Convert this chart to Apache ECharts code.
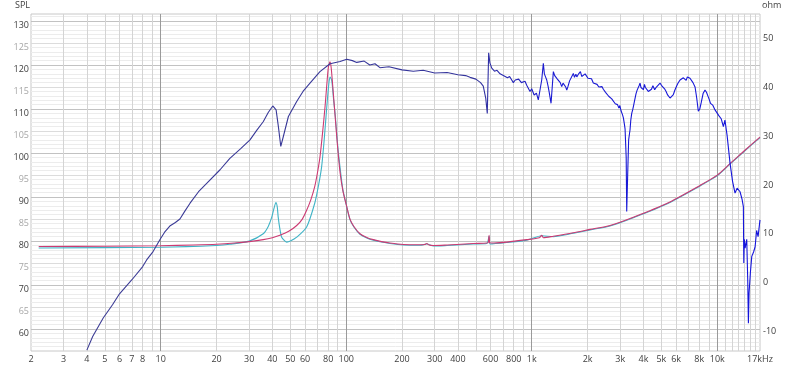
<!DOCTYPE html>
<html><head><meta charset="utf-8">
<script src="https://cdn.jsdelivr.net/npm/echarts@6/dist/echarts.min.js"></script>
<style>html,body{margin:0;padding:0;background:#fff}#c{width:800px;height:369px}</style>
</head><body><div id="c"></div>
<script>
// ---- tick labels ----
const xTickValues = [2,3,4,5,6,7,8,10,20,30,40,50,60,80,100,200,300,400,600,800,1000,2000,3000,4000,5000,6000,8000,10000,17000];
const xTickLabels = ['2','3','4','5','6','7','8','10','20','30','40','50','60','80','100','200','300','400','600','800','1k','2k','3k','4k','5k','6k','8k','10k','17kHz'];
const xMinorGrid = [3,4,5,6,7,8,9,20,30,40,50,60,70,80,90,200,300,400,500,600,700,800,900,2000,3000,4000,5000,6000,7000,8000,9000,11000,12000,13000,14000,15000,16000];
const xDecadeGrid = [10,100,1000,10000];

// ---- SPL curve (dB, left axis) ----
const splFreq = [4.0,4.3,4.9,5.5,6.0,7.0,8.0,8.4,9.1,9.9,10.5,11.2,12.0,12.7,13.5,14.4,16.0,17.7,20.9,23.6,27,30.3,33,35.7,38,40.2,41.2,41.9,43.1,44.4,45.8,48.8,54.1,58.5,63.8,72.2,81.8,92.7,100.7,108,114,125,134,143,152,170,200,230,260,300,350,400,440,465,500,530,548,565,576,586,595,609,630,650,675,703,720,740,760,796,815,835,850,880,920,940,960,979,1000,1030,1060,1085,1110,1132,1155,1170,1190,1205,1225,1240,1271,1290,1308,1330,1350,1375,1400,1425,1451,1475,1500,1525,1545,1570,1600,1630,1676,1700,1730,1750,1790,1830,1860,1900,1940,1980,2010,2050,2100,2148,2200,2250,2300,2339,2390,2432,2500,2550,2600,2650,2700,2754,2820,2900,2950,2985,3030,3056,3090,3120,3160,3185,3230,3251,3290,3330,3360,3388,3420,3460,3500,3529,3580,3650,3700,3768,3800,3835,3880,3950,4000,4050,4100,4168,4250,4342,4420,4500,4600,4700,4800,4917,5000,5100,5200,5300,5400,5566,5700,5800,5900,6050,6150,6302,6400,6566,6700,6800,6900,6986,7131,7250,7400,7500,7592,7750,7907,8050,8200,8400,8590,8750,8900,9050,9200,9450,9727,9950,10200,10500,10790,11000,11300,11720,12100,12470,12800,13270,13600,13830,13900,13990,14130,14420,14600,14720,14840,15100,15350,15700,16000,16300,16600,17000];
const splDb = [56.2,59.3,63.5,66.5,69.0,72.2,75.2,76.7,78.6,81.3,83.0,84.4,85.2,86.0,87.8,89.6,92.2,94.1,97.2,99.8,102.0,104.0,106.2,108.1,110.2,111.7,111.8,110.8,107.0,102.5,104.7,109.3,112.7,115.0,116.9,119.5,121.3,121.8,122.3,122.0,121.6,121.9,121.0,121.3,120.4,120.6,119.9,119.6,119.8,119.2,119.3,118.8,118.6,118.2,117.8,117.0,116.2,113.5,110.0,123.8,121.5,120.3,119.6,119.8,119.0,118.6,118.9,118.1,118.4,117.0,117.6,117.2,117.8,117.0,117.3,116.4,116.8,115.0,115.6,114.2,114.6,113.1,115.5,117.6,121.4,119.0,118.2,117.6,116.2,115.0,112.3,116.0,119.5,118.6,118.9,117.8,118.0,117.0,116.1,116.9,116.6,116.0,115.3,116.2,117.4,117.0,119.1,118.2,118.9,118.3,119.0,119.5,118.4,118.2,119.0,119.3,118.0,117.6,117.9,116.9,117.3,116.6,116.0,115.7,116.1,115.5,114.8,114.4,113.9,114.2,113.3,113.1,112.2,112.0,111.2,111.8,110.6,110.9,109.6,109.0,107.5,106.5,100.0,87.7,96.0,104.0,105.2,106.3,108.5,110.0,110.8,111.5,112.8,114.5,115.3,115.7,116.4,116.9,115.9,116.2,115.4,116.6,115.9,115.9,115.0,114.6,115.5,116.3,115.4,116.0,115.8,116.9,116.4,116.0,115.6,115.0,114.2,113.5,113.9,114.3,115.2,116.3,116.9,117.6,117.3,118.1,117.8,117.5,118.3,118.4,118.0,117.6,117.0,116.8,116.0,113.5,110.5,111.0,112.5,114.6,115.3,114.8,114.0,113.2,112.3,111.9,110.8,110.9,109.5,108.8,107.0,108.5,105.0,98.7,94.5,91.9,93.0,92.2,90.5,88.8,76.0,81.4,79.4,81.4,72.0,62.3,69.2,74.0,77.5,78.5,79.7,83.4,82.0,85.8];

// ---- impedance curves (ohm, right axis) ----
const zRedFreq = [2.2,5,10,15,20,25,30,35.7,40,43.9,49,54.1,58,61.2,64.5,67.6,70,72.2,74.5,76.9,78.6,80.2,81.8,83.0,84.5,87.4,90,92.7,96,100,104.8,110,118.7,130,140,155,172,203,250,265,272,280,295,350,394,484,572,583,589,593,596,733,940,1100,1132,1155,1307,1676,2062,2643,3529,5343,8077,10000,11750,14000,17000];
const zRedOhm = [7.4,7.45,7.55,7.7,7.85,8.1,8.4,8.8,9.2,9.7,10.5,11.7,13.0,14.8,17.0,19.6,22.5,25.7,30.5,36.0,40.5,44.2,45.2,44.0,40.5,33.5,27.5,22.5,18.8,16.0,13.0,11.5,10.0,9.2,8.8,8.4,8.1,7.8,7.75,7.8,8.0,7.7,7.6,7.7,7.8,8.0,8.1,8.2,9.7,8.1,8.0,8.3,8.8,9.2,9.7,9.2,9.5,10.2,10.9,11.7,13.4,16.2,19.9,22.0,24.4,27.0,29.8];
const zCyanFreq = [2.2,10,20,23.6,30,35.7,38,39.7,40.8,41.8,42.5,43.0,43.9,44.9,46.5,47.8,50,54.1,61.2,67.6,71,73.7,76.0,78.6,80.5,81.8,83.5,85.5,87.4,90,92.7,96,100,104.8,110,118.7,130,140,155,172,203,250,272,295,350,394,484,572,589,596,733,940,1132,1307,1676,2062,2643,3529,5343,8077,10000,11750,14000,17000];
const zCyanOhm = [7.1,7.25,7.6,7.85,8.5,10.0,11.5,13.4,15.2,16.4,15.5,13.4,11.0,9.3,8.6,8.3,8.5,9.3,11.4,16.2,20.0,23.7,29.0,36.0,40.5,42.1,41.5,37.5,34.0,28.0,23.5,19.0,16.0,12.9,11.4,9.9,9.1,8.7,8.3,8.0,7.7,7.65,7.9,7.5,7.6,7.7,7.9,8.0,9.5,7.9,8.2,8.7,9.6,9.4,10.1,10.8,11.6,13.3,16.1,19.8,21.9,24.3,26.9,29.7];

const zip = (a, b) => a.map((v, i) => [v, b[i]]);

const chart = echarts.init(document.getElementById('c'), null, {renderer: 'canvas'});
const FONT = 'Open Sans';
const L = '#ececec', M = '#dcdcdc', D = '#c2c2c2';
const gridTop = 14, gridBottom = 18, gridLeft = 31, gridRight = 40;
const plotH = 369 - gridTop - gridBottom;

function xLabel(v) {
  for (let i = 0; i < xTickValues.length; i++) {
    if (Math.abs(v - xTickValues[i]) / xTickValues[i] < 1e-6) return xTickLabels[i];
  }
  return '';
}

chart.setOption({
  animation: false,
  backgroundColor: '#fff',
  grid: {left: gridLeft, right: gridRight, top: gridTop, bottom: gridBottom, show: true, borderColor: '#c8c8c8', borderWidth: 1},
  graphic: [
    {type: 'text', left: 15, top: 1, style: {text: 'SPL', font: '9px "' + FONT + '"', fill: '#404040'}},
    {type: 'text', left: 762, top: 1, style: {text: 'ohm', font: '9px "' + FONT + '"', fill: '#404040'}}
  ],
  xAxis: [
    {type: 'log', logBase: 10, min: 2, max: 17000, position: 'bottom',
     axisLine: {show: false}, axisTick: {show: false}, splitLine: {show: false},
     axisLabel: {customValues: xTickValues, formatter: xLabel, color: '#404040', fontSize: 9, fontFamily: FONT, margin: 4}},
    {type: 'log', logBase: 10, min: 2, max: 17000, position: 'top',
     axisLine: {show: false}, axisLabel: {show: false}, splitLine: {show: false},
     axisTick: {show: true, inside: true, length: plotH, customValues: xMinorGrid, lineStyle: {color: '#d4d4d4', width: 1}}},
    {type: 'log', logBase: 10, min: 2, max: 17000, position: 'top',
     axisLine: {show: false}, axisLabel: {show: false}, splitLine: {show: false},
     axisTick: {show: true, inside: true, length: plotH, customValues: xDecadeGrid, lineStyle: {color: '#9a9a9a', width: 1}}}
  ],
  yAxis: [
    {type: 'value', min: 56, max: 132.6, interval: 1, position: 'left',
     axisLine: {show: false}, axisTick: {show: false},
     splitLine: {show: true, showMinLine: false, showMaxLine: false, lineStyle: {color: [L, L, L, L, D, L, L, L, L, M], width: 1}},
     axisLabel: {margin: 2, fontSize: 9, fontFamily: FONT,
       formatter: v => (Math.abs(v % 10) < 1e-9 ? '{d|' + v + '}' : (Math.abs(v % 5) < 1e-9 ? '{l|' + v + '}' : '')),
       rich: {d: {color: '#404040', fontSize: 9, fontFamily: FONT}, l: {color: '#a6a6a6', fontSize: 9, fontFamily: FONT}}}},
    {type: 'value', min: -14, max: 55, interval: 1, position: 'right',
     axisLine: {show: false}, axisTick: {show: false}, splitLine: {show: false},
     axisLabel: {margin: 3, fontSize: 9, fontFamily: FONT, color: '#404040',
       formatter: v => (Math.abs(v % 10) < 1e-9 ? String(v) : '')}}
  ],
  series: [
    {type: 'line', name: 'Z2', xAxisIndex: 0, yAxisIndex: 1, data: zip(zCyanFreq, zCyanOhm), showSymbol: false, smooth: 0.25,
     lineStyle: {color: '#3fb3c6', width: 1.1}, z: 3},
    {type: 'line', name: 'Z1', xAxisIndex: 0, yAxisIndex: 1, data: zip(zRedFreq, zRedOhm), showSymbol: false, smooth: 0.25,
     lineStyle: {color: '#cc3a72', width: 1.1}, z: 4},
    {type: 'line', name: 'SPL', xAxisIndex: 0, yAxisIndex: 0, data: zip(splFreq, splDb), showSymbol: false, smooth: false,
     lineStyle: {width: 1.1, color: {type: 'linear', x: 0, y: 0, x2: 1, y2: 0, colorStops: [
       {offset: 0, color: '#3c3c94'}, {offset: 0.58, color: '#34349c'}, {offset: 0.68, color: '#1a1ad2'}, {offset: 1, color: '#1414dc'}]}}, z: 5}
  ]
});
</script>
</body></html>
